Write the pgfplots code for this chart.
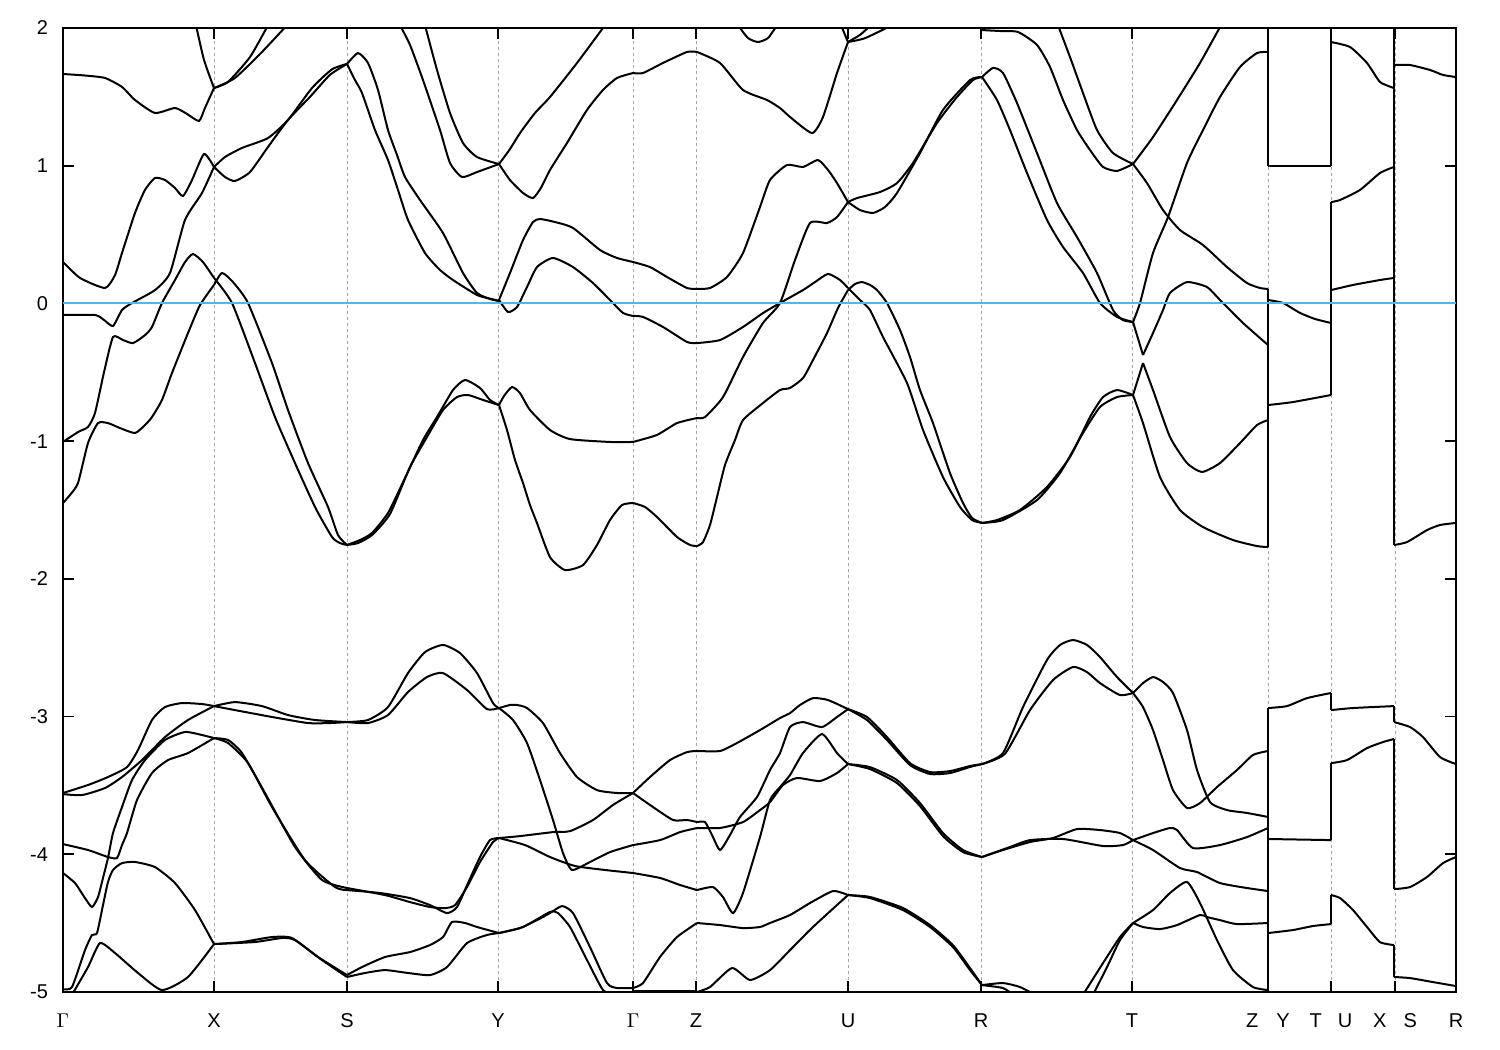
\documentclass[border=0pt]{standalone}
\usepackage{pgfplots}
\pgfplotsset{compat=1.18}
\usepackage{fontspec}
\setmainfont{Liberation Sans}
\definecolor{fermi}{RGB}{86,180,233}
\pgfplotsset{
 bd/.style={black, line width=1pt, smooth, tension=0.35, mark=none},
 sh/.style={black, line width=1pt, mark=none},
}
\begin{document}
\begin{tikzpicture}
\begin{axis}[
 scale only axis, width=696.5pt, height=482pt,
 xmin=63, xmax=1456, ymin=-5, ymax=2,
 xtick={63,214,347,498,633,696,848,981,1132,1268,1331,1395,1456},
 xticklabels={$\Gamma$,X,S,Y,$\Gamma$,Z,U,R,T,Z\hspace{9pt}Y,T\hspace{8pt}U,X\hspace{8.5pt}S,R},
 ytick={-5,-4,-3,-2,-1,0,1,2},
 yticklabels={-5,-4,-3,-2,-1,0,1,2},
 tick align=inside, major tick length=5.5pt,
 xmajorgrids,
 grid style={gray!70, dash pattern=on 1.5pt off 1.5pt, line width=0.5pt},
 axis line style={line width=1pt},
 every tick/.style={black, line width=0.8pt},
 tick label style={font=\fontsize{10}{12}\selectfont},
 xticklabel style={anchor=base, yshift=-17.5pt, text height=7.5pt, text depth=0pt},
 yticklabel style={xshift=-4pt},
 clip=true,
]
% ---------------- upper bands ----------------
\addplot[bd] coordinates {(63,1.666)(85,1.655)(105,1.637)(122,1.572)(135,1.477)(155,1.383)(175,1.419)(187,1.376)(199,1.325)(205,1.42)(214,1.564)};
\addplot[bd] coordinates {(196,2.02)(204,1.768)(214,1.564)};
\addplot[bd] coordinates {(214,1.564)(228,1.608)(250,1.789)(268,2.02)};
\addplot[bd] coordinates {(214,1.564)(235,1.637)(262,1.826)(287,2.02)};
\addplot[bd] coordinates {(63,0.301)(80,0.185)(105,0.112)(115,0.206)(122,0.366)(135,0.657)(145,0.824)(155,0.911)(165,0.896)(175,0.838)(183,0.78)(192,0.896)(204,1.085)(214,0.991)};
\addplot[bd] coordinates {(214,0.991)(225,0.918)(235,0.889)(250,0.954)(268,1.136)(288,1.332)(310,1.50)(330,1.66)(347,1.739)};
\addplot[bd] coordinates {(63,-0.084)(95,-0.084)(104,-0.12)(113,-0.164)(122,-0.048)(132,0.003)(155,0.097)(170,0.221)(185,0.606)(202,0.802)(214,0.991)};
\addplot[bd] coordinates {(214,0.991)(225,1.063)(242,1.129)(268,1.201)(288,1.332)(312,1.564)(332,1.70)(347,1.739)};
\addplot[bd] coordinates {(63,-1.006)(78,-0.934)(88,-0.897)(95,-0.796)(104,-0.5)(113,-0.244)(123,-0.266)(133,-0.288)(145,-0.23)(152,-0.171)(162,0.003)(175,0.17)(185,0.3)(193,0.359)(203,0.3)(214,0.185)};
\addplot[bd] coordinates {(214,0.185)(232,0.003)(255,-0.433)(275,-0.825)(295,-1.159)(315,-1.478)(332,-1.696)(340,-1.74)(347,-1.754)};
\addplot[bd] coordinates {(63,-1.449)(70,-1.391)(78,-1.304)(88,-1.014)(98,-0.869)(108,-0.869)(120,-0.905)(135,-0.941)(145,-0.883)(152,-0.825)(162,-0.701)(172,-0.505)(188,-0.215)(200,-0.012)(214,0.134)};
\addplot[bd] coordinates {(214,0.134)(222,0.221)(233,0.155)(248,0.003)(272,-0.433)(288,-0.774)(308,-1.159)(328,-1.478)(338,-1.682)(347,-1.754)};
\addplot[bd] coordinates {(347,-1.754)(360,-1.718)(372,-1.667)(388,-1.522)(405,-1.268)(423,-0.992)(437,-0.825)(453,-0.629)(465,-0.556)(480,-0.614)(490,-0.701)(499,-0.738)};
\addplot[bd] coordinates {(347,-1.754)(358,-1.74)(372,-1.682)(390,-1.529)(410,-1.188)(427,-0.97)(443,-0.774)(457,-0.68)(468,-0.665)(483,-0.701)(499,-0.738)};
\addplot[bd] coordinates {(347,1.739)(358,1.818)(368,1.746)(378,1.55)(388,1.259)(397,1.078)(405,0.918)(420,0.751)(443,0.511)(463,0.221)(477,0.076)(490,0.032)(499,0.018)};
\addplot[bd] coordinates {(347,1.739)(355,1.622)(362,1.528)(375,1.259)(388,1.041)(398,0.824)(408,0.606)(425,0.366)(440,0.243)(453,0.17)(477,0.061)(490,0.035)(499,0.018)};
\addplot[bd] coordinates {(400,2.02)(410,1.877)(423,1.622)(440,1.259)(450,1.02)(462,0.918)(477,0.954)(499,1.012)};
\addplot[bd] coordinates {(425,2.02)(437,1.695)(450,1.383)(463,1.165)(477,1.063)(499,1.012)};
\addplot[bd] coordinates {(499,1.012)(510,1.121)(520,1.237)(535,1.383)(550,1.499)(577,1.746)(605,2.02)};
\addplot[bd] coordinates {(499,1.012)(510,0.896)(523,0.802)(533,0.765)(541,0.84)(550,0.969)(567,1.165)(587,1.405)(603,1.55)(617,1.637)(633,1.673)};
\addplot[bd] coordinates {(633,1.673)(643,1.673)(663,1.746)(687,1.826)(697,1.826)};
\addplot[bd] coordinates {(697,1.826)(720,1.746)(743,1.55)(767,1.477)(780,1.419)(790,1.354)(812,1.237)(823,1.354)(837,1.673)(848,1.898)};
\addplot[bd] coordinates {(738,2.02)(748,1.927)(758,1.898)(768,1.927)(777,2.02)};
\addplot[sh] coordinates {(841,2.02)(848,1.898)};
\addplot[bd] coordinates {(848,1.898)(860,1.95)(871,2.02)};
\addplot[bd] coordinates {(848,1.898)(865,1.926)(892,2.02)};
\addplot[bd] coordinates {(499,0.025)(508,-0.062)(517,-0.026)(527,0.119)(537,0.264)(553,0.33)(573,0.264)(593,0.148)(610,0.025)(623,-0.069)(633,-0.091)};
\addplot[bd] coordinates {(633,-0.091)(643,-0.098)(663,-0.171)(687,-0.28)(697,-0.288)};
\addplot[bd] coordinates {(697,-0.288)(720,-0.266)(743,-0.171)(763,-0.07)(780,0.003)(803,0.097)(815,0.155)(828,0.214)(840,0.17)(848,0.112)};
\addplot[bd] coordinates {(848,0.112)(860,0.025)(870,-0.048)(883,-0.244)(907,-0.578)(923,-0.919)(943,-1.261)(960,-1.478)(972,-1.573)(982,-1.594)};
\addplot[bd] coordinates {(499,0.025)(510,0.221)(523,0.46)(533,0.591)(540,0.613)(555,0.591)(573,0.548)(600,0.388)(617,0.33)(633,0.301)};
\addplot[bd] coordinates {(633,0.301)(650,0.264)(667,0.192)(687,0.112)(697,0.105)};
\addplot[bd] coordinates {(697,0.105)(710,0.112)(727,0.192)(743,0.366)(760,0.7)(770,0.896)(787,1.005)(803,0.991)(818,1.041)(828,0.969)(837,0.874)(848,0.736)};
\addplot[bd] coordinates {(499,-0.738)(504,-0.672)(512,-0.607)(520,-0.651)(530,-0.774)(550,-0.919)(570,-0.985)(610,-1.006)(633,-1.006)};
\addplot[bd] coordinates {(633,-1.006)(657,-0.955)(677,-0.869)(697,-0.832)};
\addplot[bd] coordinates {(697,-0.832)(705,-0.825)(723,-0.68)(743,-0.389)(763,-0.142)(780,0.003)(795,0.315)(810,0.584)(827,0.584)(837,0.627)(848,0.736)};
\addplot[bd] coordinates {(848,0.736)(857,0.765)(880,0.809)(897,0.874)(913,1.02)(937,1.31)(957,1.499)(973,1.622)(982,1.644)};
\addplot[bd] coordinates {(848,0.736)(860,0.678)(873,0.657)(885,0.7)(897,0.802)(920,1.092)(943,1.405)(970,1.622)(982,1.644)};
\addplot[bd] coordinates {(499,-0.738)(507,-0.919)(515,-1.137)(523,-1.304)(530,-1.464)(537,-1.595)(550,-1.842)(565,-1.936)(583,-1.9)(597,-1.754)(610,-1.573)(622,-1.464)(633,-1.449)};
\addplot[bd] coordinates {(633,-1.449)(645,-1.478)(657,-1.551)(677,-1.696)(690,-1.754)(697,-1.762)};
\addplot[bd] coordinates {(697,-1.762)(703,-1.733)(710,-1.609)(717,-1.406)(725,-1.173)(735,-0.992)(743,-0.847)(763,-0.723)(780,-0.629)(790,-0.614)(803,-0.542)(813,-0.411)(827,-0.215)(838,-0.033)(848,0.097)};
\addplot[bd] coordinates {(848,0.097)(855,0.141)(862,0.155)(870,0.134)(877,0.097)(887,0.003)(900,-0.193)(910,-0.389)(920,-0.629)(933,-0.869)(950,-1.232)(963,-1.449)(972,-1.558)(982,-1.594)};
\addplot[bd] coordinates {(982,1.644)(993,1.71)(1003,1.673)(1017,1.455)(1037,1.092)(1057,0.729)(1077,0.482)(1097,0.221)(1113,-0.048)(1123,-0.121)(1133,-0.135)};
\addplot[bd] coordinates {(982,1.644)(997,1.477)(1010,1.259)(1027,0.947)(1047,0.606)(1063,0.41)(1083,0.221)(1100,0.003)(1117,-0.098)(1133,-0.135)};
\addplot[bd] coordinates {(982,1.985)(1000,1.978)(1018,1.971)(1037,1.877)(1050,1.717)(1063,1.477)(1077,1.259)(1090,1.114)(1103,0.991)(1117,0.962)(1133,1.012)};
\addplot[bd] coordinates {(1058,2.02)(1070,1.789)(1083,1.528)(1097,1.259)(1113,1.092)(1133,1.012)};
\addplot[bd] coordinates {(982,-1.594)(997,-1.573)(1020,-1.5)(1047,-1.333)(1070,-1.115)(1090,-0.825)(1103,-0.68)(1117,-0.629)(1133,-0.665)};
\addplot[bd] coordinates {(982,-1.594)(1003,-1.573)(1037,-1.428)(1060,-1.232)(1083,-0.941)(1100,-0.752)(1117,-0.68)(1133,-0.665)};
\addplot[bd] coordinates {(1133,1.012)(1153,1.208)(1177,1.477)(1200,1.746)(1221,2.02)};
\addplot[bd] coordinates {(1133,1.012)(1147,0.874)(1163,0.678)(1180,0.533)(1203,0.424)(1227,0.264)(1247,0.148)(1260,0.112)(1268,0.105)};
\addplot[bd] coordinates {(1133,-0.135)(1140,0.003)(1153,0.366)(1168,0.627)(1187,1.02)(1203,1.259)(1220,1.499)(1240,1.717)(1257,1.818)(1268,1.826)};
\addplot[sh] coordinates {(1133,-0.135)(1143,-0.375)};
\addplot[bd] coordinates {(1143,-0.375)(1153,-0.215)(1163,-0.048)(1170,0.076)(1187,0.155)(1207,0.119)(1220,0.025)(1243,-0.142)(1268,-0.302)};
\addplot[sh] coordinates {(1133,-0.665)(1143,-0.433)};
\addplot[bd] coordinates {(1143,-0.433)(1153,-0.629)(1170,-0.97)(1187,-1.159)(1202,-1.224)(1220,-1.159)(1240,-1.014)(1257,-0.883)(1268,-0.847)};
\addplot[bd] coordinates {(1133,-0.665)(1143,-0.869)(1160,-1.261)(1180,-1.5)(1203,-1.624)(1233,-1.718)(1257,-1.762)(1268,-1.769)};
% right-hand segments, upper
\addplot[sh] coordinates {(1268,1.0)(1331,1.0)};
\addplot[bd] coordinates {(1268,0.025)(1283,0.003)(1300,-0.069)(1315,-0.113)(1331,-0.142)};
\addplot[bd] coordinates {(1268,-0.738)(1293,-0.716)(1331,-0.665)};
\addplot[bd] coordinates {(1331,1.898)(1350,1.862)(1367,1.746)(1380,1.608)(1394,1.564)};
\addplot[bd] coordinates {(1331,0.736)(1340,0.751)(1360,0.824)(1380,0.947)(1394,0.991)};
\addplot[bd] coordinates {(1331,0.097)(1353,0.134)(1380,0.17)(1394,0.185)};
\addplot[bd] coordinates {(1394,1.731)(1410,1.731)(1430,1.695)(1443,1.659)(1456,1.644)};
\addplot[bd] coordinates {(1394,-1.754)(1407,-1.733)(1427,-1.646)(1440,-1.609)(1456,-1.594)};
% vertical connectors
\addplot[sh] coordinates {(1268,2.02)(1268,1.0)};
\addplot[sh] coordinates {(1268,0.105)(1268,-1.769)};
\addplot[sh] coordinates {(1268,-2.938)(1268,-4.986)};
\addplot[sh] coordinates {(1331,2.02)(1331,1.0)};
\addplot[sh] coordinates {(1331,0.736)(1331,-0.665)};
\addplot[sh] coordinates {(1331,-2.829)(1331,-2.953)};
\addplot[sh] coordinates {(1331,-3.338)(1331,-3.897)};
\addplot[sh] coordinates {(1331,-4.296)(1331,-4.507)};
\addplot[sh] coordinates {(1394,2.02)(1394,-1.754)};
\addplot[sh] coordinates {(1394,-2.924)(1394,-3.04)};
\addplot[sh] coordinates {(1394,-3.163)(1394,-4.253)};
\addplot[sh] coordinates {(1394,-4.659)(1394,-4.891)};
% ---------------- lower bands ----------------
\addplot[bd] coordinates {(63,-3.555)(88,-3.497)(108,-3.439)(127,-3.367)(138,-3.243)(152,-3.025)(165,-2.931)(182,-2.902)(202,-2.909)(214,-2.924)};
\addplot[bd] coordinates {(63,-3.563)(82,-3.57)(105,-3.519)(122,-3.439)(142,-3.316)(165,-3.149)(188,-3.025)(214,-2.924)};
\addplot[bd] coordinates {(214,-2.924)(235,-2.953)(272,-3.003)(308,-3.047)(330,-3.047)(347,-3.04)};
\addplot[bd] coordinates {(214,-2.924)(235,-2.895)(262,-2.924)(288,-2.989)(315,-3.025)(347,-3.04)};
\addplot[bd] coordinates {(347,-3.04)(368,-3.025)(388,-2.931)(408,-2.684)(425,-2.532)(443,-2.48)(460,-2.539)(477,-2.684)(493,-2.902)(499,-2.938)};
\addplot[bd] coordinates {(347,-3.04)(368,-3.047)(388,-2.989)(408,-2.822)(427,-2.713)(443,-2.684)(467,-2.807)(487,-2.946)(499,-2.938)};
\addplot[bd] coordinates {(499,-2.938)(510,-2.916)(517,-2.916)(527,-2.938)(543,-3.047)(560,-3.265)(577,-3.439)(597,-3.534)(617,-3.555)(633,-3.555)};
\addplot[bd] coordinates {(499,-2.938)(513,-3.025)(527,-3.192)(540,-3.461)(553,-3.751)(563,-3.991)(572,-4.114)(590,-4.056)(610,-3.984)(633,-3.933)};
\addplot[bd] coordinates {(499,-3.882)(520,-3.868)(553,-3.839)(570,-3.832)(593,-3.751)(613,-3.642)(633,-3.555)};
\addplot[bd] coordinates {(499,-3.882)(525,-3.933)(550,-4.02)(575,-4.085)(605,-4.114)(633,-4.136)};
\addplot[bd] coordinates {(347,-4.26)(380,-4.281)(410,-4.318)(430,-4.369)(447,-4.427)(457,-4.383)(468,-4.209)(480,-4.02)(490,-3.897)(499,-3.882)};
\addplot[bd] coordinates {(347,-4.245)(385,-4.296)(410,-4.347)(430,-4.383)(445,-4.391)(455,-4.369)(467,-4.238)(480,-4.056)(493,-3.911)(499,-3.882)};
\addplot[bd] coordinates {(347,-4.877)(362,-4.819)(385,-4.746)(410,-4.71)(430,-4.659)(443,-4.601)(452,-4.492)(465,-4.499)(477,-4.528)(499,-4.572)};
\addplot[bd] coordinates {(347,-4.891)(365,-4.862)(385,-4.841)(408,-4.862)(430,-4.877)(447,-4.819)(467,-4.645)(487,-4.586)(499,-4.572)};
\addplot[bd] coordinates {(499,-4.572)(520,-4.536)(537,-4.478)(550,-4.427)(562,-4.376)(573,-4.427)(590,-4.674)(607,-4.935)(617,-4.971)(633,-4.971)};
\addplot[bd] coordinates {(499,-4.572)(523,-4.528)(550,-4.419)(558,-4.427)(570,-4.528)(587,-4.768)(603,-4.986)(615,-5.02)};
\addplot[bd] coordinates {(633,-3.555)(650,-3.439)(670,-3.316)(687,-3.258)(697,-3.25)};
\addplot[bd] coordinates {(633,-3.555)(650,-3.642)(673,-3.751)(687,-3.751)(697,-3.766)};
\addplot[bd] coordinates {(633,-3.933)(660,-3.897)(680,-3.839)(697,-3.809)};
\addplot[bd] coordinates {(633,-4.136)(660,-4.172)(680,-4.223)(697,-4.26)};
\addplot[bd] coordinates {(633,-4.971)(643,-4.935)(660,-4.746)(677,-4.601)(697,-4.499)};
\addplot[sh] coordinates {(633,-4.99)(697,-4.99)};
\addplot[bd] coordinates {(697,-3.25)(720,-3.25)(737,-3.192)(760,-3.098)(780,-3.011)(790,-2.975)(800,-2.916)(813,-2.866)(828,-2.88)(848,-2.946)};
\addplot[bd] coordinates {(697,-3.766)(705,-3.766)(712,-3.86)(720,-3.969)(730,-3.86)(740,-3.729)(757,-3.584)(770,-3.388)(780,-3.265)(790,-3.076)(803,-3.04)(822,-3.076)(837,-3.003)(848,-2.946)};
\addplot[bd] coordinates {(697,-3.809)(720,-3.809)(743,-3.766)(760,-3.679)(770,-3.621)(783,-3.497)(797,-3.446)(820,-3.468)(837,-3.41)(848,-3.345)};
\addplot[bd] coordinates {(697,-4.26)(713,-4.238)(723,-4.311)(733,-4.427)(743,-4.281)(760,-3.875)(770,-3.606)(780,-3.512)(790,-3.425)(803,-3.265)(822,-3.127)(837,-3.265)(848,-3.345)};
\addplot[bd] coordinates {(697,-4.499)(720,-4.514)(743,-4.536)(760,-4.528)(770,-4.499)(790,-4.441)(810,-4.354)(833,-4.267)(848,-4.296)};
\addplot[bd] coordinates {(697,-5.0)(710,-4.964)(732,-4.826)(750,-4.913)(770,-4.841)(790,-4.696)(813,-4.528)(848,-4.296)};
\addplot[bd] coordinates {(848,-2.946)(867,-3.003)(887,-3.149)(910,-3.338)(930,-3.403)(950,-3.396)(970,-3.359)(982,-3.345)};
\addplot[bd] coordinates {(848,-2.946)(867,-3.025)(887,-3.17)(910,-3.352)(930,-3.417)(950,-3.41)(970,-3.366)(982,-3.345)};
\addplot[bd] coordinates {(848,-3.345)(870,-3.367)(897,-3.461)(920,-3.628)(943,-3.846)(963,-3.969)(982,-4.02)};
\addplot[bd] coordinates {(848,-3.345)(870,-3.381)(897,-3.483)(920,-3.65)(943,-3.868)(963,-3.984)(982,-4.02)};
\addplot[bd] coordinates {(848,-4.296)(870,-4.318)(903,-4.405)(930,-4.528)(953,-4.674)(970,-4.841)(982,-4.95)};
\addplot[bd] coordinates {(848,-4.296)(870,-4.31)(903,-4.39)(930,-4.514)(953,-4.66)(970,-4.826)(982,-4.95)};
\addplot[bd] coordinates {(982,-3.345)(1003,-3.265)(1023,-2.931)(1047,-2.589)(1060,-2.48)(1073,-2.444)(1087,-2.48)(1100,-2.568)(1117,-2.713)(1133,-2.829)};
\addplot[bd] coordinates {(982,-3.345)(1005,-3.27)(1030,-2.953)(1053,-2.735)(1073,-2.64)(1087,-2.677)(1100,-2.757)(1120,-2.844)(1133,-2.829)};
\addplot[bd] coordinates {(982,-4.02)(1003,-3.969)(1030,-3.911)(1053,-3.882)(1077,-3.817)(1100,-3.824)(1120,-3.846)(1133,-3.897)};
\addplot[bd] coordinates {(982,-4.02)(1010,-3.947)(1030,-3.897)(1063,-3.889)(1103,-3.94)(1123,-3.933)(1133,-3.897)};
\addplot[bd] coordinates {(982,-4.95)(1003,-4.935)(1020,-4.964)(1035,-5.02)};
\addplot[bd] coordinates {(982,-4.95)(1003,-4.971)(1013,-5.02)};
\addplot[bd] coordinates {(1083,-5.02)(1103,-4.79)(1120,-4.601)(1133,-4.499)};
\addplot[bd] coordinates {(1093,-5.02)(1107,-4.819)(1120,-4.623)(1133,-4.499)};
\addplot[bd] coordinates {(1133,-2.829)(1143,-2.757)(1153,-2.713)(1163,-2.749)(1173,-2.829)(1187,-3.098)(1197,-3.388)(1210,-3.621)(1227,-3.679)(1247,-3.7)(1268,-3.729)};
\addplot[bd] coordinates {(1133,-2.829)(1143,-2.931)(1153,-3.098)(1163,-3.316)(1173,-3.534)(1187,-3.664)(1200,-3.628)(1217,-3.512)(1237,-3.388)(1253,-3.279)(1268,-3.25)};
\addplot[bd] coordinates {(1133,-3.897)(1153,-3.846)(1170,-3.809)(1177,-3.824)(1193,-3.955)(1220,-3.933)(1247,-3.875)(1268,-3.809)};
\addplot[bd] coordinates {(1133,-3.897)(1153,-3.969)(1180,-4.1)(1197,-4.129)(1220,-4.209)(1247,-4.245)(1268,-4.267)};
\addplot[bd] coordinates {(1133,-4.499)(1153,-4.405)(1170,-4.281)(1187,-4.201)(1200,-4.354)(1217,-4.623)(1233,-4.841)(1253,-4.964)(1268,-4.986)};
\addplot[bd] coordinates {(1133,-4.499)(1143,-4.528)(1160,-4.543)(1177,-4.514)(1200,-4.441)(1207,-4.456)(1220,-4.478)(1237,-4.507)(1268,-4.499)};
\addplot[bd] coordinates {(1268,-2.938)(1287,-2.924)(1307,-2.866)(1331,-2.829)};
\addplot[bd] coordinates {(1331,-2.953)(1353,-2.938)(1394,-2.924)};
\addplot[bd] coordinates {(1394,-3.04)(1410,-3.076)(1423,-3.149)(1440,-3.294)(1456,-3.345)};
\addplot[sh] coordinates {(1268,-3.889)(1331,-3.897)};
\addplot[bd] coordinates {(1331,-3.338)(1347,-3.316)(1367,-3.229)(1383,-3.185)(1394,-3.163)};
\addplot[bd] coordinates {(1394,-4.253)(1410,-4.238)(1427,-4.165)(1443,-4.064)(1456,-4.02)};
\addplot[bd] coordinates {(1268,-4.572)(1293,-4.55)(1313,-4.521)(1331,-4.507)};
\addplot[bd] coordinates {(1331,-4.296)(1340,-4.318)(1353,-4.405)(1367,-4.528)(1380,-4.638)(1394,-4.659)};
\addplot[bd] coordinates {(1394,-4.891)(1410,-4.899)(1433,-4.928)(1456,-4.957)};
\addplot[bd] coordinates {(63,-4.136)(75,-4.209)(85,-4.318)(92,-4.383)(98,-4.311)(103,-4.172)(108,-4.027)(113,-3.846)(122,-3.657)(132,-3.461)(145,-3.316)(165,-3.17)(185,-3.112)(202,-3.134)(214,-3.156)};
\addplot[bd] coordinates {(63,-3.926)(88,-3.969)(108,-4.02)(117,-4.027)(122,-3.933)(127,-3.846)(137,-3.606)(152,-3.41)(168,-3.316)(188,-3.265)(214,-3.156)};
\addplot[bd] coordinates {(63,-4.979)(72,-4.964)(85,-4.696)(92,-4.586)(97,-4.572)(103,-4.369)(108,-4.201)(113,-4.114)(122,-4.064)(135,-4.056)(155,-4.093)(175,-4.209)(195,-4.405)(214,-4.652)};
\addplot[bd] coordinates {(72,-5.02)(88,-4.819)(100,-4.645)(115,-4.717)(138,-4.862)(162,-4.986)(188,-4.891)(214,-4.652)};
\addplot[bd] coordinates {(214,-3.156)(228,-3.192)(248,-3.337)(272,-3.657)(305,-4.042)(335,-4.238)(347,-4.26)};
\addplot[bd] coordinates {(214,-3.156)(228,-3.17)(242,-3.265)(265,-3.555)(295,-3.947)(322,-4.187)(347,-4.245)};
\addplot[bd] coordinates {(214,-4.652)(242,-4.637)(272,-4.601)(292,-4.608)(318,-4.746)(347,-4.877)};
\addplot[bd] coordinates {(214,-4.652)(255,-4.637)(282,-4.608)(295,-4.623)(322,-4.768)(347,-4.891)};
% Fermi level
\addplot[fermi, line width=1pt, mark=none] coordinates {(63,0)(1456,0)};
\end{axis}
\pgfresetboundingbox
\path ([xshift=-31.5pt,yshift=-29pt]current axis.south west) rectangle ([xshift=22pt,yshift=14pt]current axis.north east);
\end{tikzpicture}
\end{document}
